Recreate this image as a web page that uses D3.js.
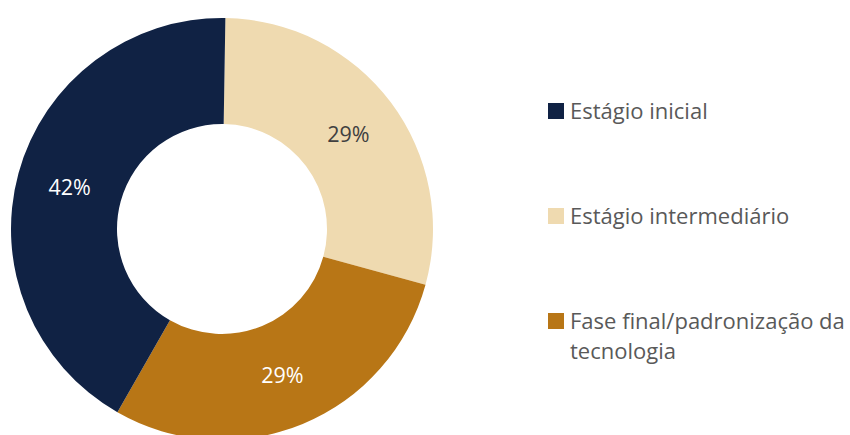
<!DOCTYPE html>
<html>
<head>
<meta charset="utf-8">
<script src="https://cdn.jsdelivr.net/npm/d3@7"></script>
<style>
  html, body { margin: 0; padding: 0; background: #ffffff; }
  svg { display: block; }
</style>
</head>
<body>
<svg id="chart" width="850" height="435"></svg>
<script>
// Stage of technology adoption
const categories = ["Estágio intermediário", "Fase final/padronização da tecnologia", "Estágio inicial"];
const values = [29, 29, 42];
const sliceColors = ["#EFDAB0", "#B87616", "#102244"];
const labelColors = ["#404040", "#ffffff", "#ffffff"];

// Legend order and wrapped lines
const legendOrder = [2, 0, 1];
const legendLines = [
  ["Estágio inicial"],
  ["Estágio intermediário"],
  ["Fase final/padronização da", "tecnologia"]
];

const svg = d3.select("#chart");
const cx = 222, cy = 229, outerR = 211, innerR = 105;
const font = "'Open Sans', 'Noto Sans', sans-serif";

const pie = d3.pie().sort(null).value(d => d)
  .startAngle(0.016).endAngle(0.016 + 2 * Math.PI);
const arc = d3.arc().innerRadius(innerR).outerRadius(outerR);
const arcs = pie(values);

const g = svg.append("g").attr("transform", `translate(${cx},${cy})`);
g.selectAll("path.slice").data(arcs).join("path")
  .attr("class", "slice")
  .attr("d", arc)
  .attr("fill", (d, i) => sliceColors[i]);

g.selectAll("text.value").data(arcs).join("text")
  .attr("class", "value")
  .attr("transform", d => `translate(${arc.centroid(d)})`)
  .attr("text-anchor", "middle")
  .attr("dy", "0.36em")
  .attr("font-family", font)
  .attr("font-size", 21.5)
  .attr("fill", (d, i) => labelColors[i])
  .text(d => d3.format(".0f")(d.value) + "%");

// Legend
const legendY = d3.scalePoint().domain(d3.range(legendOrder.length)).range([110, 320]);
const lineGap = 30;
const lg = svg.append("g");
legendOrder.forEach((idx, k) => {
  const y = legendY(k);
  lg.append("rect")
    .attr("x", 548).attr("y", y - 7)
    .attr("width", 16).attr("height", 16)
    .attr("fill", sliceColors[idx]);
  legendLines[k].forEach((line, j) => {
    lg.append("text")
      .attr("x", 570).attr("y", y + 9 + j * lineGap)
      .attr("font-family", font)
      .attr("font-size", 22)
      .attr("fill", "#595959")
      .text(line);
  });
});
</script>
</body>
</html>
